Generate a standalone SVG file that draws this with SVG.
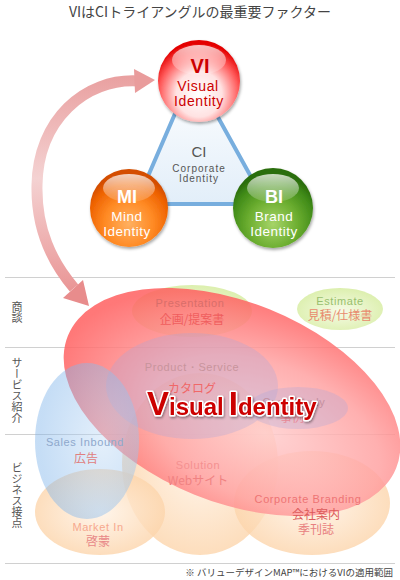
<svg xmlns="http://www.w3.org/2000/svg" width="400" height="580" viewBox="0 0 400 580">
<defs>
<style>
.jp{font-family:"Noto Sans CJK JP","Noto Sans",sans-serif}
.row{font-family:"Noto Sans CJK JP",sans-serif;font-size:11px;fill:#555;writing-mode:vertical-rl}
.rule{stroke:#d0d0d0;stroke-width:1}
.lbl{font-family:"Liberation Sans",Arial,sans-serif;font-size:11px;text-anchor:middle;letter-spacing:.6px}
.jl{font-family:"Noto Sans CJK JP",sans-serif;font-size:12px;text-anchor:middle}
.sph{font-family:"Liberation Sans",Arial,sans-serif;text-anchor:middle}
.big{font-family:"Liberation Sans",Arial,sans-serif;font-weight:bold;fill:#cc0000;stroke:#fff;stroke-width:3;paint-order:stroke;stroke-linejoin:round}
</style>
<radialGradient id="gVI" cx="50%" cy="66%" r="62%">
<stop offset="0" stop-color="#ffffff"/><stop offset="0.45" stop-color="#ffe2e2"/><stop offset="0.78" stop-color="#ff5a5a"/><stop offset="1" stop-color="#e40000"/>
</radialGradient>
<radialGradient id="gMI" cx="50%" cy="70%" r="62%">
<stop offset="0" stop-color="#ffb060"/><stop offset="0.5" stop-color="#ff8a24"/><stop offset="0.85" stop-color="#ee6200"/><stop offset="1" stop-color="#d44e00"/>
</radialGradient>
<radialGradient id="gBI" cx="50%" cy="70%" r="62%">
<stop offset="0" stop-color="#a6d468"/><stop offset="0.5" stop-color="#6cae30"/><stop offset="0.85" stop-color="#3f8a18"/><stop offset="1" stop-color="#2c6e0c"/>
</radialGradient>
<linearGradient id="gHi" x1="0" y1="0" x2="0" y2="1">
<stop offset="0" stop-color="#fff" stop-opacity="0.75"/><stop offset="1" stop-color="#fff" stop-opacity="0.12"/>
</linearGradient>
<linearGradient id="gTri" x1="0" y1="0" x2="0" y2="1">
<stop offset="0" stop-color="#ffffff"/><stop offset="1" stop-color="#e2eef9"/>
</linearGradient>
<linearGradient id="gArr" gradientUnits="userSpaceOnUse" x1="0" y1="75" x2="0" y2="305">
<stop offset="0" stop-color="#e9a0a0"/><stop offset="0.45" stop-color="#f4d2d2"/><stop offset="1" stop-color="#e88e8e"/>
</linearGradient>
<radialGradient id="gRed" cx="62%" cy="58%" r="62%">
<stop offset="0" stop-color="#ffcccc"/><stop offset="0.55" stop-color="#ffa2a2"/><stop offset="1" stop-color="#ff6060"/>
</radialGradient>
<radialGradient id="gGreen" cx="50%" cy="55%" r="55%">
<stop offset="0" stop-color="#f6fbe6"/><stop offset="1" stop-color="#dcefae"/>
</radialGradient>
<radialGradient id="gPeach" cx="50%" cy="50%" r="55%">
<stop offset="0" stop-color="#fff3e6"/><stop offset="1" stop-color="#fcd2a6"/>
</radialGradient>
<radialGradient id="gBlue" cx="65%" cy="50%" r="60%">
<stop offset="0" stop-color="#c2dcf6"/><stop offset="1" stop-color="#7fb4ea"/>
</radialGradient>
<filter id="sh" x="-20%" y="-20%" width="140%" height="140%">
<feDropShadow dx="1" dy="2" stdDeviation="1.6" flood-color="#000" flood-opacity="0.35"/>
</filter>
<filter id="tsh" x="-10%" y="-30%" width="120%" height="160%">
<feDropShadow dx="1" dy="1.5" stdDeviation="1" flood-color="#000" flood-opacity="0.4"/>
</filter>
</defs>
<rect width="400" height="580" fill="#fff"/>

<text class="jp" x="200" y="17" font-size="14" fill="#444" text-anchor="middle">VIはCIトライアングルの最重要ファクター</text>

<g id="rules">
<line class="rule" x1="5" y1="277.5" x2="395" y2="277.5"/>
<line class="rule" x1="5" y1="347.5" x2="395" y2="347.5"/>
<line class="rule" x1="5" y1="434.5" x2="395" y2="434.5"/>
<line class="rule" x1="5" y1="563.5" x2="395" y2="563.5"/>
</g>
<g id="row-labels">
<text class="row" x="17" y="301">商談</text>
<text class="row" x="17" y="357">サービス紹介</text>
<text class="row" x="17" y="462">ビジネス接点</text>
</g>

<g id="connectors">
<path d="M138,81 C85,78 38,120 37,185 C36,230 52,262 74,288" fill="none" stroke="url(#gArr)" stroke-width="11"/>
<polygon points="134,69 155,80 135,93" fill="#e99c9c"/>
<polygon points="63,298 83,280 89,306" fill="#e88c8c"/>
</g>

<g id="ci">
<polygon points="193,72 136,204 266,204" fill="url(#gTri)" stroke="#78aede" stroke-width="4" stroke-linejoin="round"/>
<text class="sph" x="199" y="157" font-size="15" fill="#555">CI</text>
<text class="sph" x="199" y="172" font-size="10" fill="#555" letter-spacing="1">Corporate</text>
<text class="sph" x="199" y="182" font-size="10" fill="#555" letter-spacing="1">Identity</text>
</g>

<g id="vi">
<circle cx="199" cy="81" r="41" fill="url(#gVI)" filter="url(#sh)"/>
<ellipse cx="199" cy="60" rx="27" ry="15" fill="url(#gHi)"/>
<text class="sph" x="200" y="73" font-size="20" font-weight="bold" fill="#cc0000">VI</text>
<text class="sph" x="198" y="91" font-size="14" fill="#cc0000" letter-spacing="0.6">Visual</text>
<text class="sph" x="199" y="106" font-size="14" fill="#cc0000" letter-spacing="0.6">Identity</text>
</g>
<g id="mi">
<circle cx="129" cy="208" r="39" fill="url(#gMI)" filter="url(#sh)"/>
<ellipse cx="129" cy="188" rx="26" ry="14" fill="url(#gHi)"/>
<text class="sph" x="127" y="203" font-size="18" font-weight="bold" fill="#fff">MI</text>
<text class="sph" x="127" y="221" font-size="13.5" fill="#fff" letter-spacing="0.5">Mind</text>
<text class="sph" x="127" y="236" font-size="13.5" fill="#fff" letter-spacing="0.5">Identity</text>
</g>
<g id="bi">
<circle cx="273" cy="208" r="40" fill="url(#gBI)" filter="url(#sh)"/>
<ellipse cx="273" cy="188" rx="26" ry="14" fill="url(#gHi)"/>
<text class="sph" x="274" y="203" font-size="18" font-weight="bold" fill="#fff">BI</text>
<text class="sph" x="274" y="221" font-size="13.5" fill="#fff" letter-spacing="0.5">Brand</text>
<text class="sph" x="274" y="236" font-size="13.5" fill="#fff" letter-spacing="0.5">Identity</text>
</g>

<g id="scope">
<g id="solution"><ellipse cx="200" cy="464" rx="78" ry="91" fill="url(#gPeach)" opacity="0.8"/></g>
<g id="corporate"><ellipse cx="312" cy="503" rx="78" ry="52" fill="url(#gPeach)" opacity="0.8"/></g>
<g id="market"><ellipse cx="100" cy="512" rx="65" ry="43" fill="url(#gPeach)" opacity="0.8"/></g>
<g id="estimate"><ellipse cx="340" cy="309" rx="43" ry="21" fill="url(#gGreen)"/></g>
<g id="presentation"><ellipse cx="192" cy="311" rx="60" ry="26" fill="url(#gGreen)"/></g>
<g id="visual-identity"><ellipse cx="232" cy="402" rx="177" ry="100" transform="rotate(22 232 402)" fill="url(#gRed)" opacity="0.85"/></g>
<g id="product"><ellipse cx="192" cy="386" rx="86" ry="53" fill="#a8a4dc" opacity="0.3"/></g>
<g id="case"><ellipse cx="298" cy="408" rx="50" ry="21" fill="#a8a4dc" opacity="0.3"/></g>
<g id="sales"><ellipse cx="87" cy="441" rx="52" ry="78" fill="url(#gBlue)" opacity="0.45"/></g>
</g>

<g id="labels">
<text class="lbl" x="340" y="305" fill="#98bf6e">Estimate</text>
<text class="jl" x="340" y="320" fill="#e88b6e">見積/仕様書</text>
<text class="lbl" x="190" y="307" fill="#d86e6a">Presentation</text>
<text class="jl" x="192" y="324" fill="#f05e5e">企画/提案書</text>
<text class="lbl" x="192" y="371" fill="#c8949c">Product・Service</text>
<text class="jl" x="192" y="393" fill="#f06868">カタログ</text>
<text class="lbl" x="294" y="406" fill="#c490a0">Case Study</text>
<text class="jl" x="292" y="422" fill="#e88a98">事例</text>
<text class="lbl" x="85" y="446" fill="#8ea8cc">Sales Inbound</text>
<text class="jl" x="86" y="463" fill="#e08080">広告</text>
<text class="lbl" x="198" y="469" fill="#f49090">Solution</text>
<text class="jl" x="198" y="485" fill="#f08282">Webサイト</text>
<text class="lbl" x="98" y="531" fill="#f6a88e">Market In</text>
<text class="jl" x="98" y="546" fill="#e88888">啓蒙</text>
<text class="lbl" x="308" y="503" fill="#ee7474">Corporate Branding</text>
<text class="jl" x="316" y="519" font-size="11.5" fill="#dc5a5a">会社案内</text>
<text class="jl" x="316" y="534" font-size="11.5" fill="#e88080">季刊誌</text>
</g>

<text class="big" x="147" y="415" filter="url(#tsh)"><tspan font-size="33">V</tspan><tspan font-size="24">isual</tspan><tspan font-size="33" dx="5">I</tspan><tspan font-size="24">dentity</tspan></text>

<text class="jp" x="393" y="576" font-size="9.5" fill="#444" text-anchor="end">※ バリューデザインMAP™におけるVIの適用範囲</text>
</svg>
